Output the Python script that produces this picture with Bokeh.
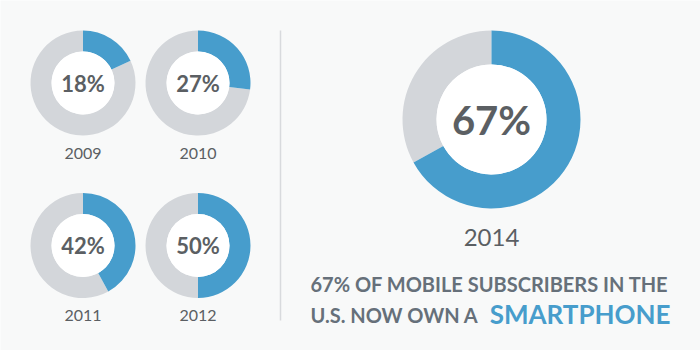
from bokeh.plotting import figure
from bokeh.models import Range1d, ColumnDataSource
from bokeh.core.properties import value
from bokeh.embed import file_html
from bokeh.resources import INLINE
import math

# ---- data ----
years = ["2009", "2010", "2011", "2012"]
shares = [18, 27, 42, 50]
main_year = "2014"
main_share = 67
headline_1 = "67% OF MOBILE SUBSCRIBERS IN THE"
headline_2 = "U.S. NOW OWN A"
headline_word = "SMARTPHONE"

BLUE = "#479dcc"
GREY = "#d3d6da"
TEXT = "#5b5f63"
SLATE = "#66707a"
BG = "#f8f9f9"
FONT = "Lato"
HFONT = "Lato"

W, H = 700, 350
p = figure(width=W, height=H, output_backend="svg", toolbar_location=None,
           x_range=Range1d(0, W), y_range=Range1d(H, 0), min_border=0)
p.axis.visible = False
p.grid.visible = False
p.outline_line_color = None
p.background_fill_color = BG
p.border_fill_color = BG

# small donut layout
cx = [82.5, 197.5, 82.5, 197.5]
cy = [82.5, 82.5, 245, 245]
r_out, r_in = 52.5, 31.5
start = math.pi / 2

def donut(xs, ys, fracs, ro, ri):
    ends = [start - 2 * math.pi * f / 100.0 for f in fracs]
    src = ColumnDataSource(dict(x=xs, y=ys, s=[start] * len(xs), e=ends))
    p.annular_wedge(x="x", y="y", inner_radius=ri, outer_radius=ro,
                    start_angle="e", end_angle="s", direction="clock",
                    fill_color=GREY, line_color=None, source=src)
    p.annular_wedge(x="x", y="y", inner_radius=ri, outer_radius=ro,
                    start_angle="s", end_angle="e", direction="clock",
                    fill_color=BLUE, line_color=None, source=src)
    p.circle(x="x", y="y", radius=ri, fill_color="white", line_color=None, source=src)

donut(cx, cy, shares, r_out, r_in)

pct_src = ColumnDataSource(dict(x=cx, y=cy, t=[f"{v}%" for v in shares],
                                yl=[c + 70 for c in cy], yr=years))
p.text(x="x", y="y", text="t", source=pct_src, text_font=value(FONT),
       text_font_style="bold", text_font_size="22px", text_color=TEXT,
       text_align="center", text_baseline="middle")
p.text(x="x", y="yl", text="yr", source=pct_src, text_font=value(FONT),
       text_font_size="16px", text_color=TEXT,
       text_align="center", text_baseline="middle")

# big donut
bx, by = 491, 119
donut([bx], [by], [main_share], 89, 55)
p.text(x=[bx], y=[by], text=[f"{main_share}%"], text_font=value(FONT),
       text_font_style="bold", text_font_size="40px", text_color=TEXT,
       text_align="center", text_baseline="middle")
p.text(x=[bx], y=[by + 118], text=[main_year], text_font=value(FONT),
       text_font_size="24px", text_color=TEXT,
       text_align="center", text_baseline="middle")

# divider
p.segment(x0=[280], y0=[30], x1=[280], y1=[320], line_color="#d8dadd", line_width=1.5)

# headline
p.text(x=[310], y=[283], text=[headline_1], text_font=value(HFONT),
       text_font_style="bold", text_font_size="20px", text_color=SLATE,
       text_align="left", text_baseline="middle")
p.text(x=[310], y=[314], text=[headline_2], text_font=value(HFONT),
       text_font_style="bold", text_font_size="20px", text_color=SLATE,
       text_align="left", text_baseline="middle")
p.text(x=[670], y=[313], text=[headline_word], text_font=value(HFONT),
       text_font_style="bold", text_font_size="26px", text_color=BLUE,
       text_align="right", text_baseline="middle")

open("out.html", "w").write(file_html(p, INLINE))
